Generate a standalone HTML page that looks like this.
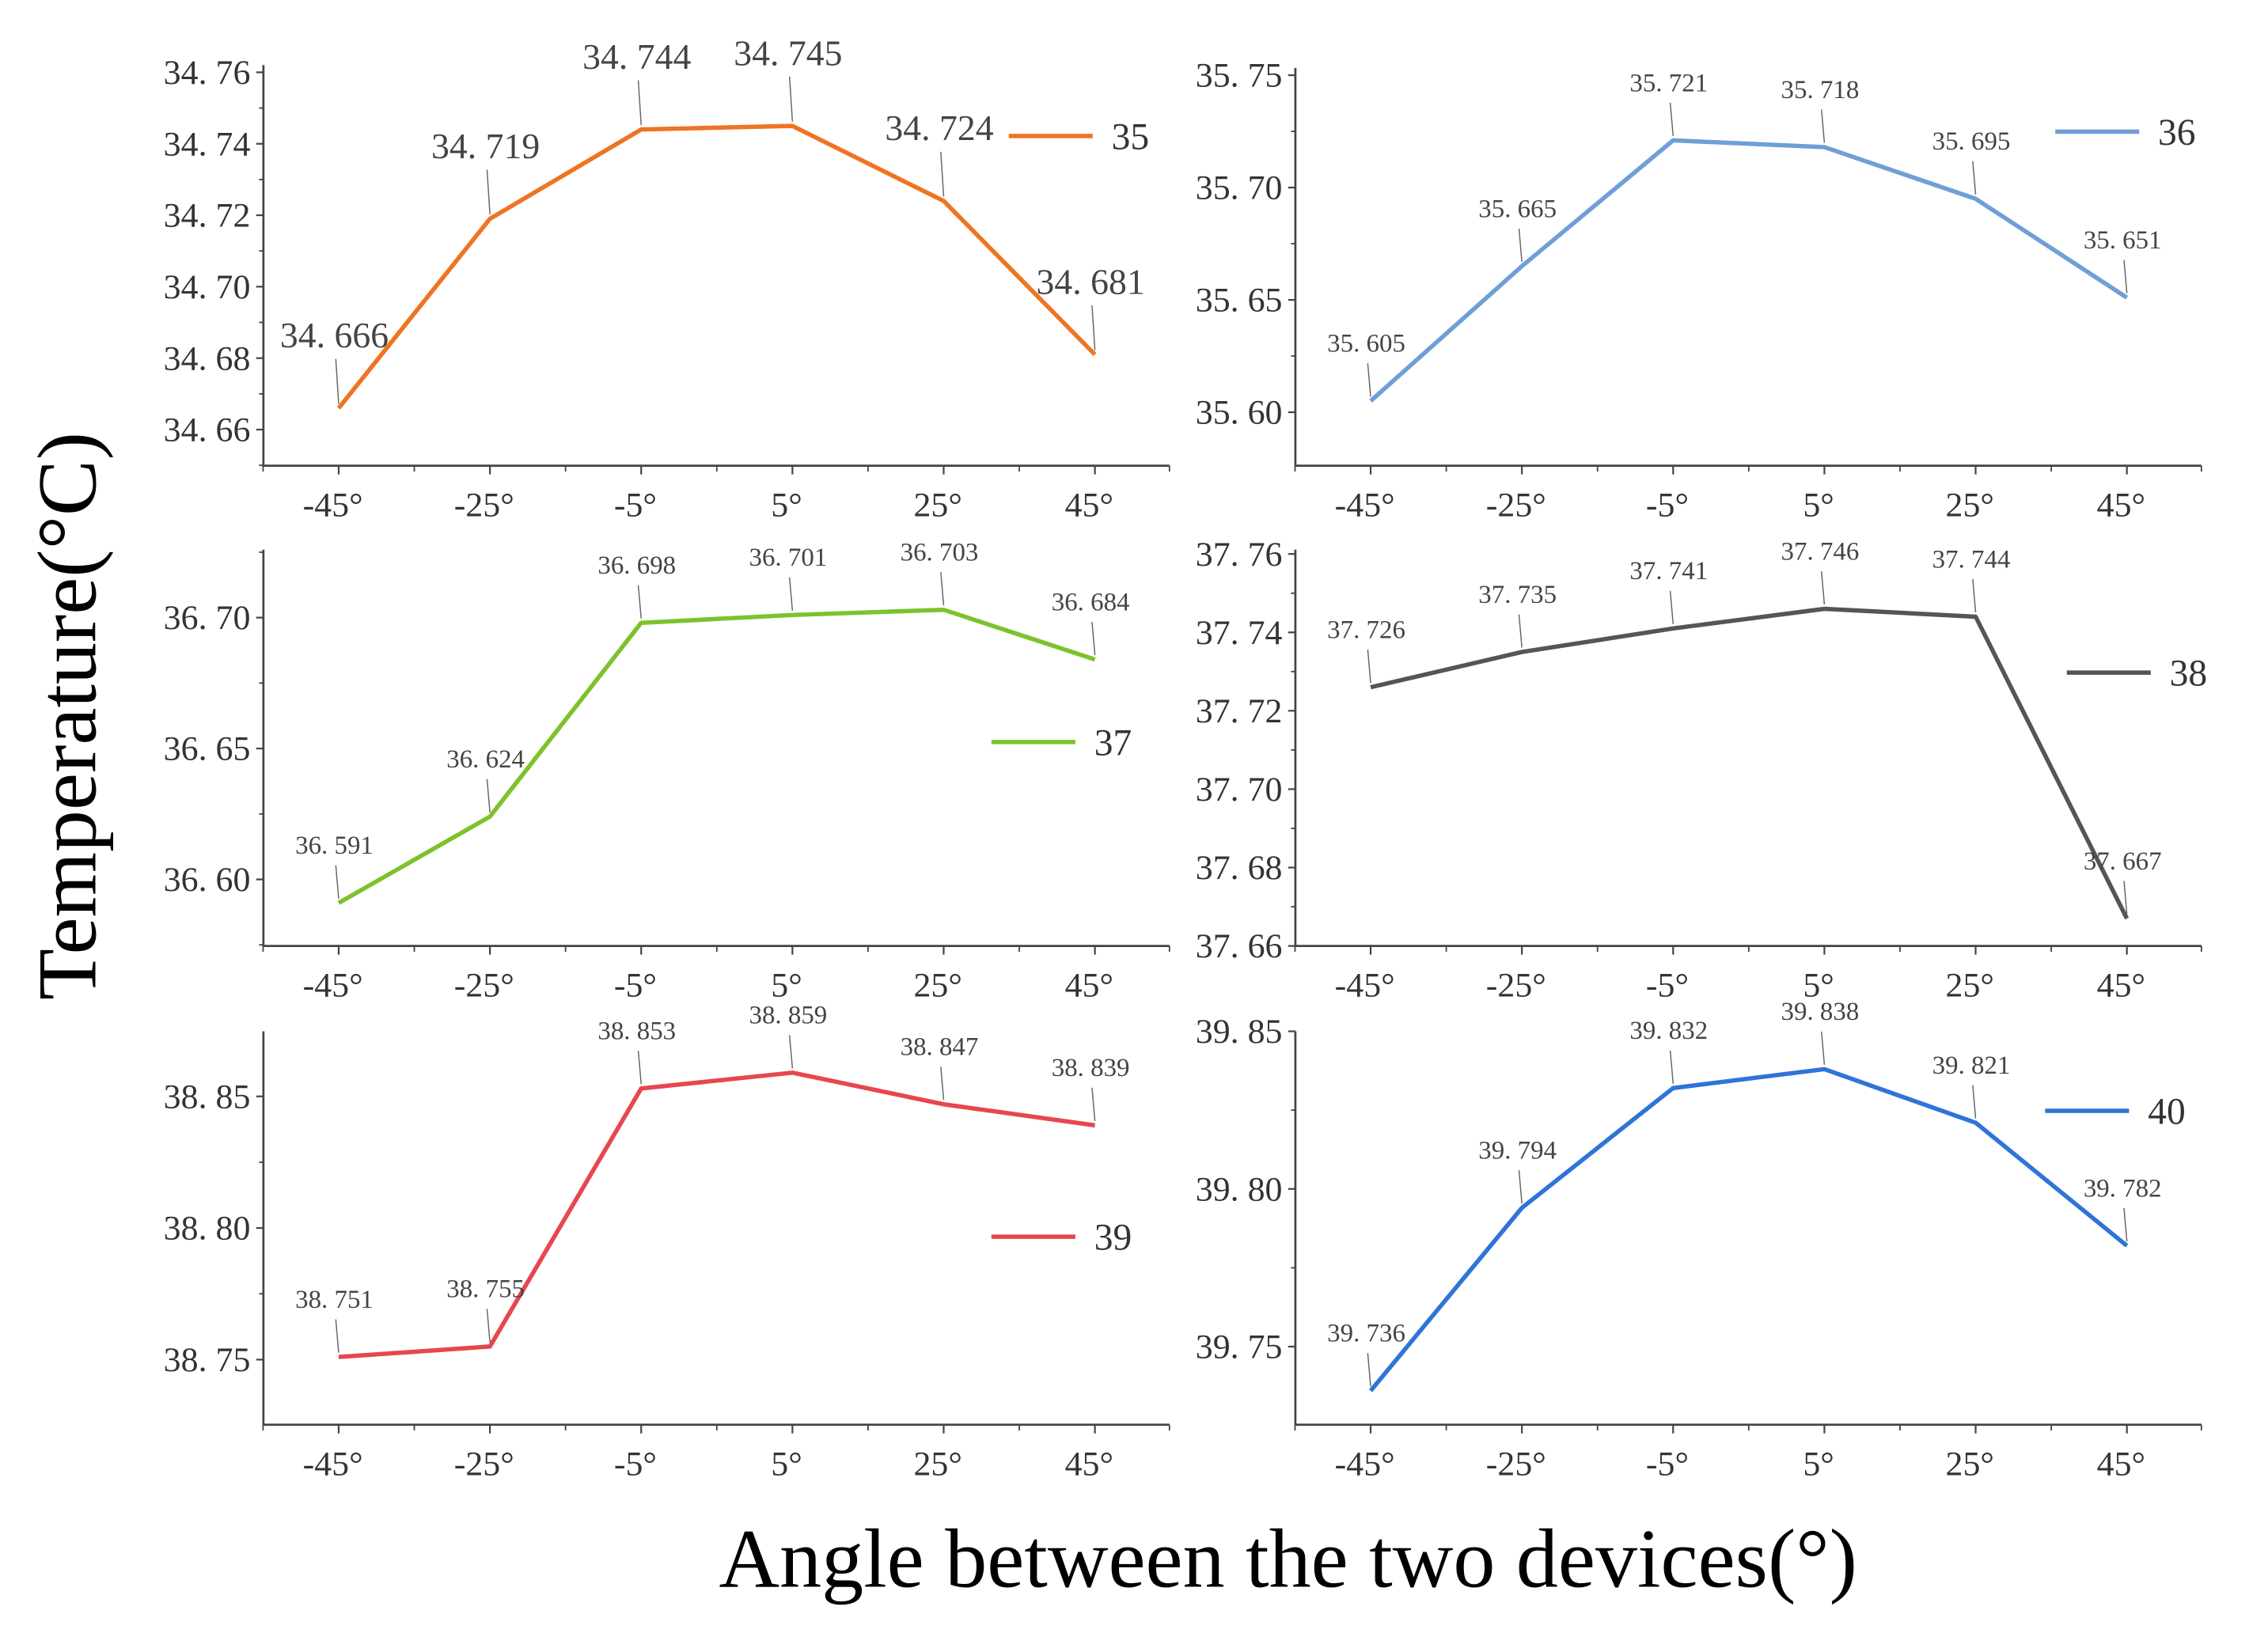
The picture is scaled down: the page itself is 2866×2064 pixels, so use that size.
<!DOCTYPE html>
<html><head><meta charset="utf-8">
<style>
html,body{margin:0;padding:0;background:#fff;}
svg{display:block;}
.tk{font-family:"Liberation Serif","Noto Serif CJK SC",serif;font-size:24px;fill:#333;}
.dl{font-family:"Liberation Serif","Noto Serif CJK SC",serif;font-size:18px;fill:#444;}
.ttl{font-family:"Liberation Serif",serif;font-size:58px;fill:#000;}
</style></head>
<body>
<svg id="chart" width="2866" height="2064" viewBox="0 0 1567 1129" preserveAspectRatio="none" xmlns="http://www.w3.org/2000/svg">
<text class="ttl" transform="translate(66,495) rotate(-90)" text-anchor="middle">Temperature(°C)</text>
<text class="ttl" x="890" y="1097" text-anchor="middle">Angle between the two devices(°)</text>
</svg>
<script>
const categories = ["-45°","-25°","-5°","5°","25°","45°"];
const seriesNames = ["35","36","37","38","39","40"];
const s35 = [34.666,34.719,34.744,34.745,34.724,34.681];
const s36 = [35.605,35.665,35.721,35.718,35.695,35.651];
const s37 = [36.591,36.624,36.698,36.701,36.703,36.684];
const s38 = [37.726,37.735,37.741,37.746,37.744,37.667];
const s39 = [38.751,38.755,38.853,38.859,38.847,38.839];
const s40 = [39.736,39.794,39.832,39.838,39.821,39.782];
const ticks35 = ["34.66","34.68","34.70","34.72","34.74","34.76"];
const ticks36 = ["35.60","35.65","35.70","35.75"];
const ticks37 = ["36.60","36.65","36.70"];
const ticks38 = ["37.66","37.68","37.70","37.72","37.74","37.76"];
const ticks39 = ["38.75","38.80","38.85"];
const ticks40 = ["39.75","39.80","39.85"];

const NS="http://www.w3.org/2000/svg";
const svg=document.getElementById('chart');
function mk(tag,attrs,parent){const e=document.createElementNS(NS,tag);for(const k in attrs)e.setAttribute(k,attrs[k]);(parent||svg).appendChild(e);return e;}

const panels=[
 {data:s35,ticks:ticks35,color:"#ef7422",ax:182,top:45,bot:322,v0:34.66,p0:297,v1:34.76,p1:50,leg:[697,94],big:true},
 {data:s36,ticks:ticks36,color:"#6f9fd6",ax:895,top:47,bot:322,v0:35.60,p0:285,v1:35.75,p1:52,leg:[1420,91]},
 {data:s37,ticks:ticks37,color:"#7dc22c",ax:182,top:380,bot:654,v0:36.60,p0:608,v1:36.70,p1:427,leg:[685,513]},
 {data:s38,ticks:ticks38,color:"#555555",ax:895,top:380,bot:654,v0:37.66,p0:654,v1:37.76,p1:383,leg:[1428,465]},
 {data:s39,ticks:ticks39,color:"#e8464e",ax:182,top:713,bot:985,v0:38.75,p0:940,v1:38.85,p1:758,leg:[685,855]},
 {data:s40,ticks:ticks40,color:"#2f74d8",ax:895,top:713,bot:985,v0:39.75,p0:931,v1:39.85,p1:713,leg:[1413,768]}
];
panels.forEach((p,pi)=>{
  const g=mk('g',{});
  
  
  const step=104.5;
  const xs=i=>p.ax+52+i*step;
  const ys=v=>p.p0+(v-p.v0)*(p.p1-p.p0)/(p.v1-p.v0);
  const right=p.ax+626;
  const ya=mk('line',{x1:p.ax,y1:p.top,x2:p.ax,y2:p.bot,stroke:'#444','stroke-width':1.5},g);
  
  
  const xa=mk('line',{x1:p.ax,y1:p.bot,x2:right,y2:p.bot,stroke:'#444','stroke-width':1.5},g);
  
  
  const tv=p.ticks.map(Number);
  const half=(tv[1]-tv[0])/2;
  tv.forEach((v,i)=>{
    const y=ys(v);
    mk('line',{x1:p.ax-5,y1:y,x2:p.ax,y2:y,stroke:'#444','stroke-width':1.2},g);
    const t=mk('text',{x:p.ax-9,y:y+8,'text-anchor':'end',class:'tk'},g);
    t.textContent=p.ticks[i].replace('.','. ');
    
    
    const ym=ys(v+half);
    if(ym>p.top) mk('line',{x1:p.ax-3,y1:ym,x2:p.ax,y2:ym,stroke:'#444','stroke-width':1},g);
    const yl=ys(v-half);
    if(i===0 && yl<p.bot) mk('line',{x1:p.ax-3,y1:yl,x2:p.ax,y2:yl,stroke:'#444','stroke-width':1},g);
  });
  categories.forEach((c,i)=>{
    const x=xs(i);
    mk('line',{x1:x,y1:p.bot,x2:x,y2:p.bot+6,stroke:'#444','stroke-width':1.2},g);
    mk('line',{x1:x-step/2,y1:p.bot,x2:x-step/2,y2:p.bot+4,stroke:'#444','stroke-width':1},g);
    const t=mk('text',{x:x-4,y:p.bot+35,'text-anchor':'middle',class:'tk'},g);
    t.textContent=c;
    
    
  });
  mk('line',{x1:right,y1:p.bot,x2:right,y2:p.bot+4,stroke:'#444','stroke-width':1},g);
  const pts=p.data.map((v,i)=>xs(i)+','+ys(v)).join(' ');
  const pl=mk('polyline',{points:pts,fill:'none',stroke:p.color,'stroke-width':3,'stroke-linejoin':'round'},g);
  
  
  const off=p.big?44:36;
  p.data.forEach((v,i)=>{
    const x=xs(i),y=ys(v);
    mk('line',{x1:x-2,y1:y-off+10,x2:x,y2:y-3,stroke:'#666','stroke-width':0.8},g);
    const t=mk('text',{x:x-3,y:y-off+2,'text-anchor':'middle',class:'dl'},g);
    if(p.big)t.setAttribute('style','font-size:25px');
    t.textContent=v.toFixed(3).replace('.','. ');
    
    
  });
  const [lx,ly]=p.leg;
  const ll=mk('line',{x1:lx,y1:ly,x2:lx+58,y2:ly,stroke:p.color,'stroke-width':3},g);
  
  
  const lt=mk('text',{x:lx+71,y:ly+9,class:'tk',style:'font-size:26px'},g);
  lt.textContent=seriesNames[pi];
  
  
});
</script>
</body></html>
